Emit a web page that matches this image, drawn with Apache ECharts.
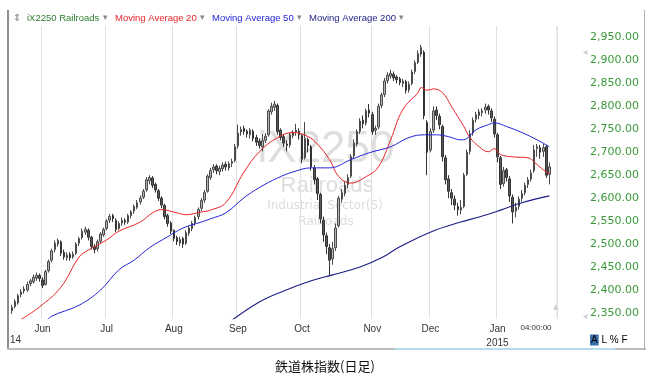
<!DOCTYPE html>
<html><head><meta charset="utf-8">
<script src="https://cdn.jsdelivr.net/npm/echarts@6/dist/echarts.min.js"></script>
<style>html,body{margin:0;padding:0;background:#fff}#c{width:651px;height:387px}</style>
</head><body><div id="c"></div>
<script>
// ---- calendar (trading days) ----
const startDate = '2014-05-16';
const endDate = '2015-01-30';
const holidays = ['2014-05-26','2014-07-04','2014-09-01','2014-11-27','2014-12-25','2015-01-01','2015-01-19'];
const monthNames = ['Jan','Feb','Mar','Apr','May','Jun','Jul','Aug','Sep','Oct','Nov','Dec'];

// ---- price data [open, close, low, high] ----
const ohlc = [
[2355,2362,2348,2368],[2364,2375,2360,2380],[2372,2388,2368,2392],[2390,2396,2384,2402],[2398,2402,2392,2408],
[2400,2412,2396,2418],[2414,2420,2408,2424],[2418,2428,2414,2434],[2426,2432,2420,2438],[2432,2425,2418,2436],
[2422,2410,2404,2428],[2412,2440,2410,2444],[2442,2462,2438,2466],[2465,2485,2460,2490],[2488,2502,2482,2508],
[2500,2508,2494,2512],[2505,2480,2474,2508],[2482,2472,2466,2488],[2470,2476,2464,2482],[2478,2470,2464,2482],
[2472,2478,2468,2484],[2480,2500,2476,2504],[2502,2512,2496,2516],[2514,2528,2510,2534],[2526,2532,2520,2538],
[2530,2515,2508,2534],[2515,2495,2488,2518],[2494,2488,2480,2500],[2490,2505,2484,2510],[2506,2522,2502,2526],
[2520,2532,2516,2536],[2534,2550,2530,2554],[2552,2560,2546,2566],[2562,2555,2548,2566],[2552,2532,2526,2556],
[2534,2545,2530,2550],[2546,2552,2540,2558],[2552,2548,2542,2556],[2548,2562,2544,2566],[2562,2570,2556,2574],
[2572,2582,2566,2586],[2580,2590,2576,2596],[2592,2600,2586,2606],[2602,2615,2598,2620],[2618,2640,2614,2646],
[2638,2645,2630,2650],[2644,2628,2622,2648],[2630,2618,2612,2634],[2616,2600,2594,2620],[2600,2585,2578,2604],
[2584,2560,2554,2588],[2562,2545,2538,2566],[2546,2528,2522,2550],[2530,2512,2506,2532],[2514,2505,2498,2518],
[2502,2510,2496,2516],[2512,2500,2492,2516],[2502,2525,2498,2530],[2524,2535,2518,2540],[2534,2545,2528,2550],
[2546,2558,2540,2562],[2560,2575,2554,2580],[2578,2595,2572,2600],[2596,2612,2590,2618],[2615,2648,2612,2652],
[2645,2660,2640,2666],[2662,2668,2655,2674],[2670,2660,2652,2674],[2658,2665,2650,2670],[2664,2672,2658,2678],
[2674,2668,2660,2680],[2666,2675,2660,2680],[2676,2680,2668,2686],[2682,2712,2678,2718],[2714,2742,2708,2760],
[2744,2750,2736,2756],[2752,2745,2738,2758],[2746,2740,2732,2750],[2738,2748,2730,2752],[2746,2730,2724,2750],
[2732,2722,2714,2738],[2724,2715,2708,2730],[2712,2725,2702,2740],[2726,2735,2720,2742],[2738,2790,2734,2794],
[2788,2800,2782,2808],[2798,2805,2790,2812],[2802,2745,2738,2806],[2748,2732,2726,2752],[2734,2720,2712,2740],
[2718,2715,2702,2726],[2716,2738,2710,2742],[2736,2742,2730,2748],[2744,2748,2736,2762],[2746,2738,2728,2752],
[2736,2685,2676,2740],[2688,2730,2684,2766],[2728,2715,2700,2732],[2712,2668,2660,2716],[2665,2640,2630,2672],
[2642,2610,2596,2646],[2608,2555,2545,2612],[2552,2520,2505,2560],[2518,2495,2478,2525],[2492,2465,2430,2500],
[2468,2490,2455,2505],[2492,2535,2485,2545],[2540,2600,2536,2605],[2598,2612,2590,2620],[2610,2628,2604,2636],
[2630,2645,2622,2652],[2648,2690,2644,2696],[2692,2720,2686,2728],[2718,2745,2712,2750],[2746,2768,2740,2774],
[2770,2762,2752,2780],[2764,2790,2758,2795],[2792,2785,2776,2805],[2782,2745,2738,2788],[2748,2752,2738,2758],
[2755,2800,2750,2806],[2802,2825,2796,2830],[2826,2855,2820,2862],[2856,2868,2850,2874],[2866,2872,2860,2880],
[2870,2862,2855,2876],[2864,2858,2850,2868],[2860,2852,2846,2864],[2850,2855,2842,2860],[2854,2835,2828,2858],
[2836,2848,2830,2854],[2850,2875,2846,2880],[2876,2895,2870,2900],[2896,2915,2892,2922],[2914,2928,2908,2934],
[2918,2780,2772,2922],[2765,2700,2650,2770],[2705,2745,2700,2752],[2748,2790,2742,2800],[2792,2780,2770,2800],
[2778,2760,2750,2784],[2756,2690,2680,2760],[2688,2640,2630,2694],[2642,2615,2600,2650],[2612,2600,2585,2620],
[2598,2585,2574,2606],[2582,2575,2562,2590],[2574,2580,2565,2596],[2582,2650,2578,2655],[2652,2700,2648,2706],
[2702,2740,2695,2748],[2742,2770,2736,2776],[2772,2782,2765,2788],[2780,2788,2772,2794],[2786,2790,2778,2796],
[2792,2798,2784,2806],[2800,2792,2782,2804],[2790,2775,2766,2796],[2772,2740,2732,2778],[2738,2690,2678,2742],
[2688,2630,2620,2692],[2632,2660,2625,2668],[2662,2645,2636,2666],[2642,2605,2592,2648],[2602,2570,2545,2608],
[2572,2580,2558,2590],[2582,2598,2575,2604],[2600,2610,2592,2618],[2612,2628,2606,2634],[2630,2640,2622,2646],
[2642,2655,2636,2662],[2660,2705,2655,2716],[2708,2712,2690,2718],[2710,2700,2686,2716],[2702,2710,2690,2718],
[2712,2650,2644,2716],[2652,2668.21,2630,2678]
];

// ---- moving averages: [day index, value] ----
const ma20 = [[3,2336],[9,2363],[16,2406],[22,2472],[25,2487],[31,2509],[35,2528],[42,2548],[46,2568],[49,2575],
[54,2568],[57,2564],[62,2570],[65,2574],[70,2590],[76,2657],[81,2701],[87,2732],[92,2743],[97,2734],[100,2718],
[104,2684],[107,2647],[111,2633],[116,2647],[120,2668],[124,2727],[128,2793],[133,2830],[134,2841],[136,2835],
[138,2838],[141,2830],[144,2799],[148,2756],[150,2732],[153,2712],[156,2701],[158,2708],[160,2695],[164,2690],
[169,2688],[172,2673],[175,2657],[176,2655]];
const ma50 = [[11,2330],[13,2343],[22,2367],[29,2400],[35,2444],[40,2465],[45,2492],[51,2516],[56,2535],[62,2548],
[65,2555],[70,2568],[76,2601],[81,2623],[87,2644],[92,2657],[98,2666],[104,2666],[111,2684],[117,2699],[124,2712],
[130,2732],[135,2738],[139,2738],[143,2734],[147,2727],[149,2730],[152,2749],[156,2760],[158,2764],[162,2756],
[167,2743],[172,2727],[176,2712]];
const ma200 = [[72,2334],[81,2374],[89,2398],[98,2420],[105,2433],[114,2450],[121,2470],[127,2494],[137,2526],
[147,2548],[153,2559],[160,2574],[167,2590],[176,2605]];

const yMin = 2337.5, yMax = 2975, yStep = 12.5, yLabelStep = 50;

// ---- build categories ----
const categories = [];
(function(){
  let d = new Date(startDate + 'T00:00:00Z');
  const end = new Date(endDate + 'T00:00:00Z');
  while (d <= end) {
    const s = d.toISOString().slice(0,10);
    const wd = d.getUTCDay();
    if (wd !== 0 && wd !== 6 && holidays.indexOf(s) < 0) categories.push(s);
    d = new Date(d.getTime() + 86400000);
  }
})();
const monthStart = categories.map((c,i) => i > 0 && c.slice(0,7) !== categories[i-1].slice(0,7));

const fmt = v => v.toFixed(2).replace(/\B(?=(\d{3})+(?!\d))/g, ',');
const lastClose = ohlc[ohlc.length-1][1];

const chart = echarts.init(document.getElementById('c'));
const lblFont = 'Liberation Sans';
const legendY = 18;
const wm = (text, x, y, size, family, fill) => ({type: 'text', z: -10, silent: true,
  style: {text, x, y, fill, font: size + 'px "' + family + '"', textAlign: 'center', textVerticalAlign: 'middle'}});
chart.setOption({
  animation: false,
  grid: {left: 10.5, right: 94, top: 26, bottom: 68.3},
  xAxis: {
    type: 'category', data: categories, boundaryGap: true,
    axisLine: {show: false}, axisTick: {show: false},
    axisLabel: {
      interval: (i) => monthStart[i], margin: 4,
      color: '#333', fontSize: 10, fontFamily: lblFont, lineHeight: 14,
      formatter: (v) => { const m = +v.slice(5,7) - 1; return m === 0 ? monthNames[m] + '\n' + v.slice(0,4) : monthNames[m]; }
    },
    splitLine: {show: true, interval: (i) => monthStart[i], lineStyle: {color: '#e0e0e0', width: 1}}
  },
  yAxis: {
    type: 'value', position: 'right', min: yMin, max: yMax, interval: yStep, scale: true,
    axisLine: {show: false}, axisTick: {show: false}, splitLine: {show: false},
    axisLabel: {
      margin: 33, color: '#3a9a3a', fontSize: 11, fontFamily: 'DejaVu Sans',
      formatter: (v) => (Math.abs(v % yLabelStep) < 1e-6 ? fmt(v) : '')
    }
  },
  series: [
    {
      type: 'candlestick', name: 'iX2250 Railroads', data: ohlc, barWidth: 2,
      itemStyle: {color: '#b4b4b4', color0: '#5a5a5a', borderColor: '#4a4a4a', borderColor0: '#333', borderWidth: 1},
      markLine: {
        silent: true, symbol: 'none', animation: false,
        lineStyle: {opacity: 0},
        label: {show: true, position: 'end', distance: 29, formatter: fmt(lastClose),
          color: '#000', fontSize: 11, fontFamily: 'DejaVu Sans', backgroundColor: '#fff',
          borderColor: '#000', borderWidth: 1, padding: [2, 2, 1, 2]},
        data: [{yAxis: lastClose}]
      },
      z: 3
    },
    {type: 'line', name: 'Moving Average 20', data: ma20, smooth: 0.4, showSymbol: false, lineStyle: {color: '#e8232b', width: 1}, z: 4},
    {type: 'line', name: 'Moving Average 50', data: ma50, smooth: 0.4, showSymbol: false, lineStyle: {color: '#2323d8', width: 1}, z: 4},
    {type: 'line', name: 'Moving Average 200', data: ma200, smooth: 0.4, showSymbol: false, lineStyle: {color: '#1c1c86', width: 1.1}, z: 4}
  ],
  graphic: [
    // frame
    {type: 'rect', shape: {x: 7, y: 10, width: 2, height: 340}, style: {fill: '#8c8c8c'}, silent: true},
    {type: 'rect', shape: {x: 7, y: 348, width: 639, height: 2}, style: {fill: '#bdbdbd'}, silent: true},
    {type: 'rect', shape: {x: 395, y: 348, width: 220, height: 2}, style: {fill: '#b5dcec'}, silent: true},
    {type: 'rect', shape: {x: 644, y: 10, width: 1, height: 340}, style: {fill: '#b0b0b0'}, silent: true},
    {type: 'rect', shape: {x: 556.5, y: 26, width: 1, height: 293}, style: {fill: '#e0e0e0'}, silent: true},
    // watermark
    wm('iX2250', 326, 150, 44, 'Liberation Sans', '#dedede'),
    wm('Railroads', 327, 186, 22, 'Liberation Sans', '#dedede'),
    wm('Industrial Sector(S)', 325, 206, 12, 'DejaVu Sans', '#dcdcdc'),
    wm('Railroads', 326, 222, 12, 'DejaVu Sans', '#dcdcdc'),
    // legend
    {type: 'text', style: {text: '⇕', x: 13, y: legendY, fill: '#888', font: '10px "DejaVu Sans"', textVerticalAlign: 'middle'}},
    {type: 'text', style: {text: 'iX2250 Railroads', x: 27, y: legendY, fill: '#2e7d32', font: '9.5px "Liberation Sans"', textVerticalAlign: 'middle'}},
    {type: 'text', style: {text: '▾', x: 103, y: legendY, fill: '#888', font: '9px "DejaVu Sans"', textVerticalAlign: 'middle'}},
    {type: 'text', style: {text: 'Moving Average 20', x: 115, y: legendY, fill: '#e8232b', font: '9.5px "Liberation Sans"', textVerticalAlign: 'middle'}},
    {type: 'text', style: {text: '▾', x: 200, y: legendY, fill: '#888', font: '9px "DejaVu Sans"', textVerticalAlign: 'middle'}},
    {type: 'text', style: {text: 'Moving Average 50', x: 212, y: legendY, fill: '#2323d8', font: '9.5px "Liberation Sans"', textVerticalAlign: 'middle'}},
    {type: 'text', style: {text: '▾', x: 297, y: legendY, fill: '#888', font: '9px "DejaVu Sans"', textVerticalAlign: 'middle'}},
    {type: 'text', style: {text: 'Moving Average 200', x: 309, y: legendY, fill: '#1c1c86', font: '9.5px "Liberation Sans"', textVerticalAlign: 'middle'}},
    {type: 'text', style: {text: '▾', x: 399, y: legendY, fill: '#888', font: '9px "DejaVu Sans"', textVerticalAlign: 'middle'}},
    // misc bottom texts
    {type: 'text', style: {text: '14', x: 10, y: 340, fill: '#333', font: '10px "Liberation Sans"', textVerticalAlign: 'middle'}},
    {type: 'text', style: {text: '04:00:00', x: 536, y: 328, fill: '#333', font: '8px "Liberation Sans"', textAlign: 'center', textVerticalAlign: 'middle'}},
    {type: 'text', style: {text: '{a|A}{b| L % F}', x: 590, y: 340, textVerticalAlign: 'middle', font: '10px "Liberation Sans"',
      rich: {a: {backgroundColor: '#3b6fae', color: '#123', padding: [1, 1, 0, 1], fontSize: 10}, b: {color: '#333', fontSize: 10}}}},
    {type: 'text', style: {text: '▲', x: 556, y: 307, fill: '#c8c8c8', font: '7px "DejaVu Sans"', textAlign: 'center', textVerticalAlign: 'middle'}},
    {type: 'text', style: {text: '◀', x: 585, y: 52, fill: '#d0d0d0', font: '6px "DejaVu Sans"', textAlign: 'center', textVerticalAlign: 'middle'}},
    {type: 'text', style: {text: '◀', x: 585, y: 316, fill: '#d0d0d0', font: '6px "DejaVu Sans"', textAlign: 'center', textVerticalAlign: 'middle'}},
    // caption
    {type: 'text', style: {text: '鉄道株指数(日足)', x: 325, y: 366, fill: '#111', font: '13px "Noto Sans CJK JP"', textAlign: 'center', textVerticalAlign: 'middle'}}
  ]
});
</script></body></html>
